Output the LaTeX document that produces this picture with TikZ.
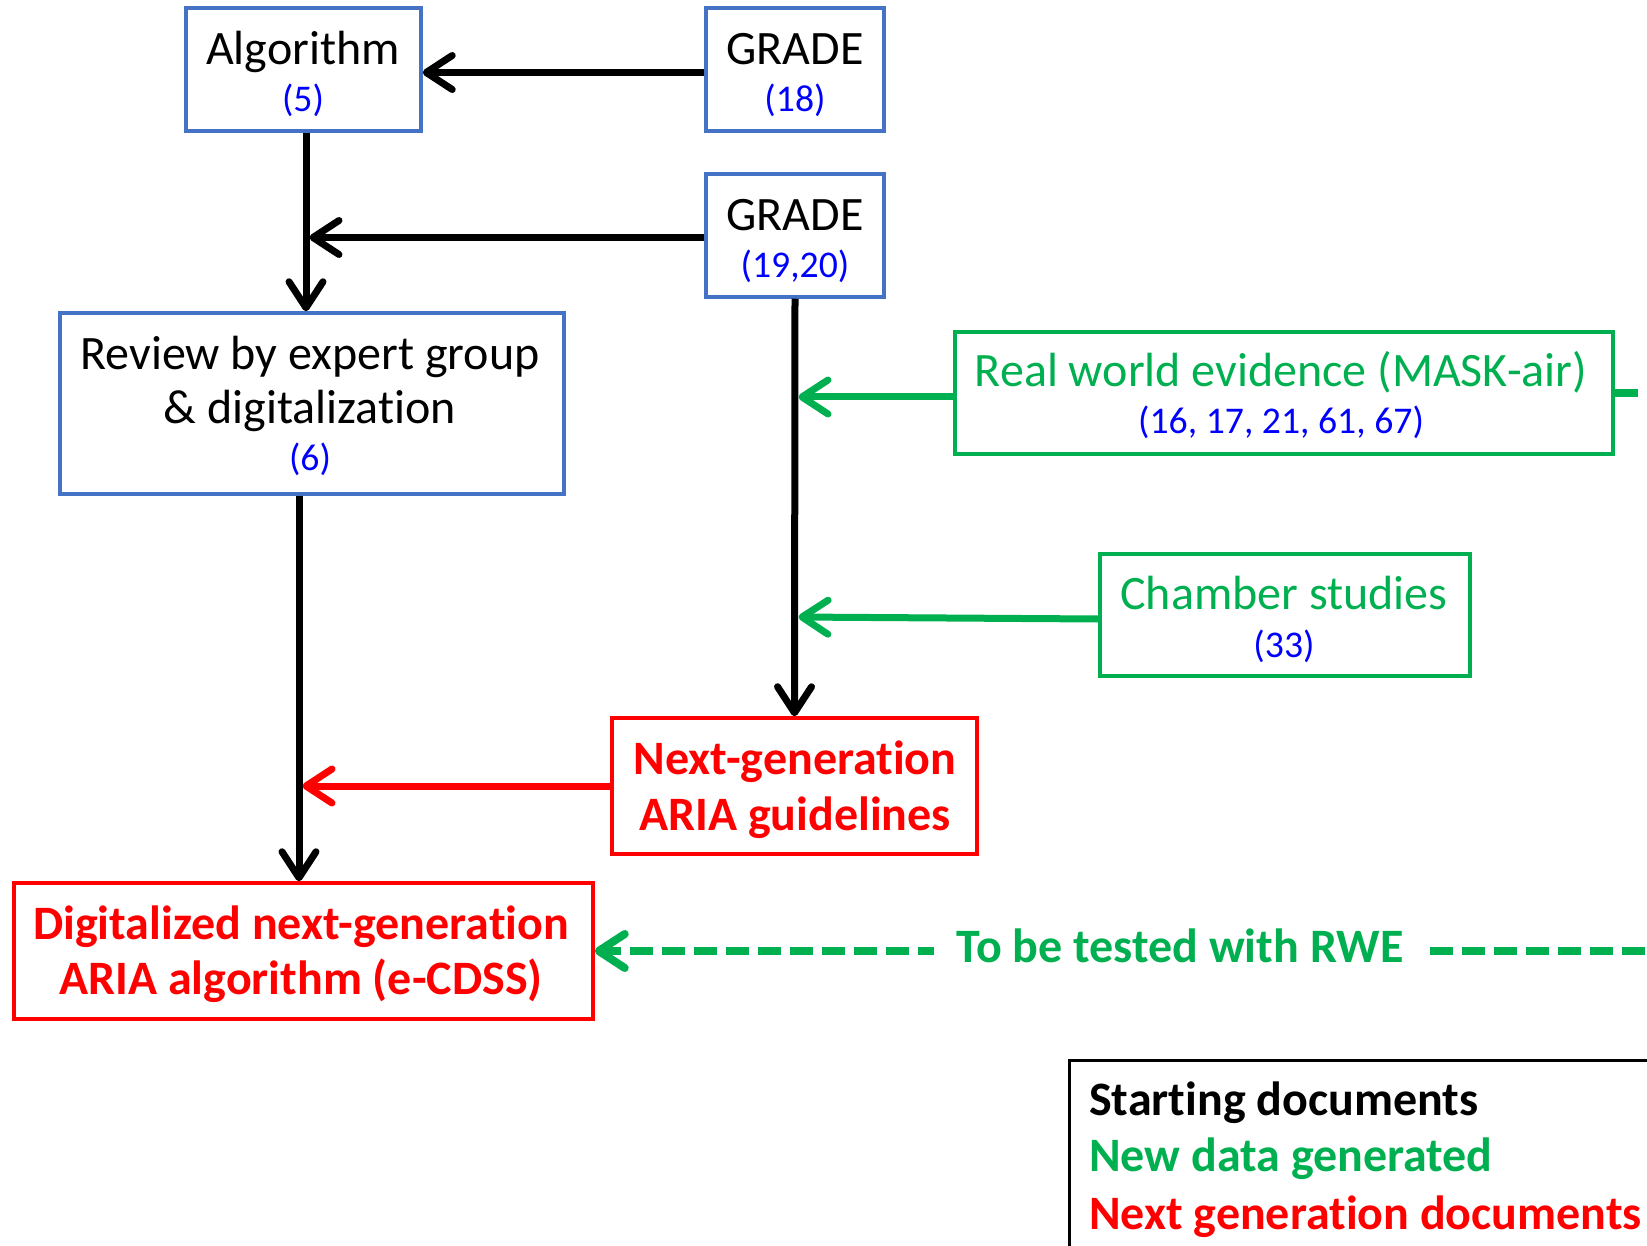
\documentclass[tikz,border=0pt]{standalone}
\usepackage{fontspec}
\setmainfont{Carlito}[Ligatures=NoCommon]
\usetikzlibrary{arrows.meta}
\definecolor{boxblue}{HTML}{4472C4}
\definecolor{refblue}{HTML}{0000FF}
\definecolor{newgreen}{HTML}{00B050}
\definecolor{nextred}{HTML}{FF0000}

\begin{document}
\begin{tikzpicture}[x=1pt,y=-1pt,
  box/.style={draw, line width=3.5pt, rectangle, inner sep=0pt},
  bluebox/.style={box, draw=boxblue},
  greenbox/.style={box, draw=newgreen},
  redbox/.style={box, draw=nextred},
  txt/.style={anchor=base, inner sep=0pt, font=\fontsize{48}{57}\selectfont},
  boldtxt/.style={txt, font=\fontsize{48}{57}\selectfont\bfseries},
  reftxt/.style={anchor=base, inner sep=0pt, text=refblue, font=\fontsize{37.7}{45}\selectfont},
  tip/.style={-{Straight Barb[length=26pt,width=34pt,round]}},
  arr/.style={line width=7pt, tip},
  onto/.style={shorten >=3.5pt}
]
\path[use as bounding box, clip] (0,0) rectangle (1647,1246);

% boxes
\node[bluebox, minimum width=235pt, minimum height=123pt] (alg) at (303.5,69.5) {};
\node[bluebox, minimum width=178pt, minimum height=123pt] (g18) at (795,69.5) {};
\node[bluebox, minimum width=178pt, minimum height=123pt] (g19) at (795,235.5) {};
\node[bluebox, minimum width=504pt, minimum height=181pt] (rev) at (312,403.5) {};
\node[greenbox, minimum width=658pt, minimum height=122pt] (rwe) at (1284,393) {};
\node[greenbox, minimum width=370pt, minimum height=122pt] (ch) at (1285,615) {};
\node[redbox, minimum width=365pt, minimum height=136pt] (ng) at (794.5,786) {};
\node[redbox, minimum width=579pt, minimum height=136pt] (dig) at (303.5,951) {};
\node[draw, line width=2.5pt, inner sep=0pt, anchor=north west,
      minimum width=700pt, minimum height=300pt] (leg) at (1068,1059) {};

% box texts
\node[txt] (algA) at (303,65) {Algorithm};
\node[reftxt] (algB) at (303,112) {(5)};
\node[txt] (g18A) at (795,65) {GRADE};
\node[reftxt] (g18B) at (795,112) {(18)};
\node[txt] (g19A) at (795,231) {GRADE};
\node[reftxt] (g19B) at (795,278) {(19,20)};
\node[txt] (revA) at (310,370) {Review by expert group};
\node[txt] (revB) at (310,424) {\& digitalization};
\node[reftxt] (revC) at (310,471) {(6)};
\node[txt, text=newgreen] (rweA) at (1281,387) {Real world evidence (MASK-air)};
\node[reftxt] (rweB) at (1281,434) {(16, 17, 21, 61, 67)};
\node[txt, text=newgreen] (chA) at (1284,609) {Chamber studies};
\node[reftxt] (chB) at (1284,657) {(33)};
\node[boldtxt, text=nextred] (ngA) at (795,774) {Next-generation};
\node[boldtxt, text=nextred] (ngB) at (795,830) {ARIA guidelines};
\node[boldtxt, text=nextred] (digA) at (301,939) {Digitalized next-generation};
\node[boldtxt, text=nextred] (digB) at (301,994) {ARIA algorithm (e-CDSS)};

% legend
\node[boldtxt, anchor=base west] (legA) at (1089,1115) {Starting documents};
\node[boldtxt, anchor=base west, text=newgreen] (legB) at (1089,1171) {New data generated};
\node[boldtxt, anchor=base west, text=nextred] (legC) at (1089,1229) {Next generation documents};

% connectors
\draw[arr] ([yshift=-3pt]g18.west) -- ([yshift=-3pt]alg.east);
\coordinate (algdown) at ([xshift=2.5pt]alg.south);
\draw[arr] (algdown) -- (algdown |- rev.north);
\draw[arr, onto] ([yshift=-2pt]g19.west) -- ([yshift=-2pt]g19.west -| algdown);
\draw[arr] (g19.south) -- (ng.north);
\draw[arr, draw=newgreen, onto] ([yshift=-4pt]rwe.west) -- ([yshift=-4pt]rwe.west -| g19.south);
\draw[arr, draw=newgreen, onto] ([yshift=-4pt]ch.west) -- ([yshift=-2pt]ch.west -| g19.south);
\coordinate (revdown) at ([xshift=-4.5pt]dig.north);
\draw[arr] (revdown |- rev.south) -- (revdown);
\draw[arr, draw=nextred, onto] (ng.west) -- (ng.west -| revdown);

% planned validation loop
\draw[line width=8pt, draw=newgreen, dash pattern=on 23pt off 9pt,
      -{Straight Barb[length=26pt,width=34pt,round]}]
  (rwe.east) -- ++(120,0) |- (dig.east);
\node[boldtxt, text=newgreen, fill=white, inner xsep=22pt, inner ysep=6pt] (test) at (1180,962) {To be tested with RWE};
\end{tikzpicture}
\end{document}
